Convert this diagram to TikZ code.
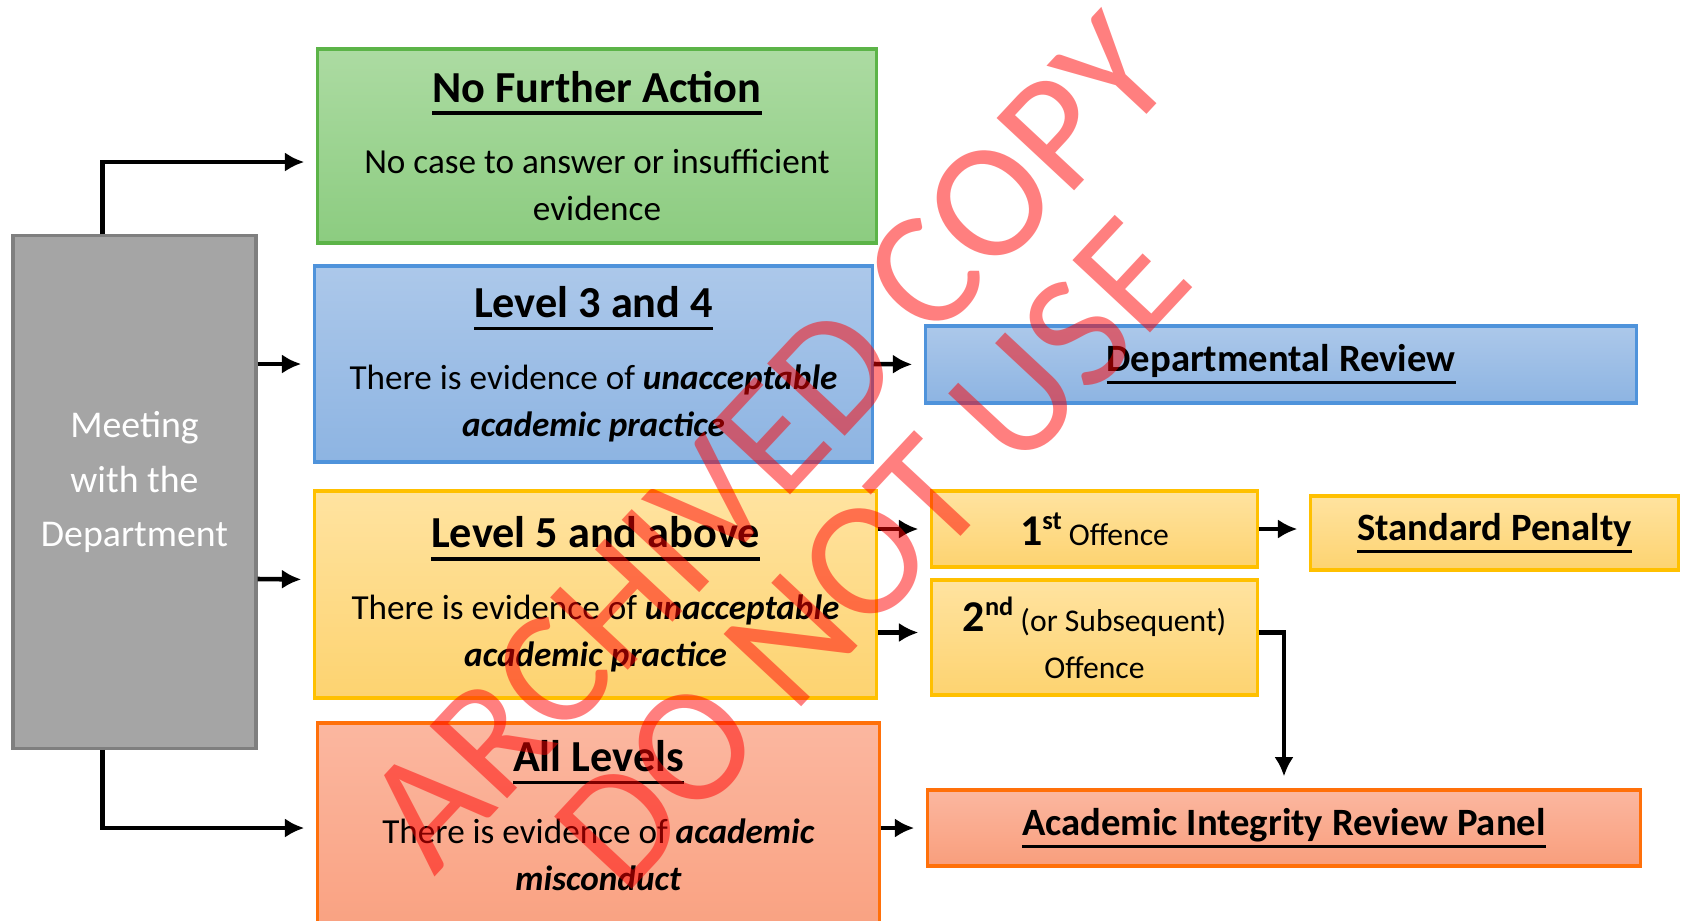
\documentclass[tikz,border=0pt]{standalone}
\usepackage{fontspec}
\setmainfont{Carlito}
\usepackage{xcolor}
\usetikzlibrary{positioning}
\usetikzlibrary{arrows.meta}
\usetikzlibrary{calc}

\definecolor{meetfill}{RGB}{165,165,165}
\definecolor{meetline}{RGB}{127,127,127}
\definecolor{grnline}{RGB}{92,180,72}
\definecolor{grntop}{RGB}{172,219,162}
\definecolor{grnbot}{RGB}{140,204,128}
\definecolor{bluline}{RGB}{79,147,219}
\definecolor{blutop}{RGB}{172,200,234}
\definecolor{blubot}{RGB}{141,180,226}
\definecolor{ylwline}{RGB}{255,192,0}
\definecolor{ylwtop}{RGB}{255,227,160}
\definecolor{ylwbot}{RGB}{253,211,112}
\definecolor{orgline}{RGB}{255,112,10}
\definecolor{orgtop}{RGB}{251,183,160}
\definecolor{orgbot}{RGB}{249,158,124}

% underlined heading
\newcommand{\hdr}[2][12.6]{\leavevmode\setbox0=\hbox{\fontsize{#1}{#1}\selectfont\bfseries #2}\rlap{\rule[-3.6pt]{\wd0}{0.95pt}}\box0}
\newcommand{\emp}[1]{\textbf{\textit{#1}}}

\tikzset{
  panel/.style={draw, line width=0.9pt, align=center, inner sep=0pt,
    font=\fontsize{10}{13.4}\selectfont},
  grnbox/.style={panel, draw=grnline, top color=grntop, bottom color=grnbot},
  blubox/.style={panel, draw=bluline, top color=blutop, bottom color=blubot},
  ylwbox/.style={panel, draw=ylwline, top color=ylwtop, bottom color=ylwbot},
  orgbox/.style={panel, draw=orgline, top color=orgtop, bottom color=orgbot},
  flow/.style={line width=1.3pt, -{Latex[length=5.5pt,width=5.5pt]}, shorten >=0.12cm},
  stamp/.style={text=red, text opacity=0.5, rotate=47, inner sep=0pt,
    font=\fontsize{47}{47}\selectfont}
}

\begin{document}
\begin{tikzpicture}[x=0.01cm, y=-0.01cm]
\useasboundingbox (0,0) rectangle (1681,920);

\node[draw=meetline, fill=meetfill, line width=0.9pt, minimum width=2.43cm, minimum height=5.12cm] (meet) at (134.5,492) {};
\node[text=white, align=center, font=\fontsize{10.75}{15.4}\selectfont] (meettxt) at ($(meet.center)+(0,-10)$) {Meeting\\ with the\\ Department};

\node[grnbox, minimum width=5.58cm, minimum height=1.94cm] (nfa) at (597,146)
  {\hdr{No Further Action}\\[7pt] No case to answer or insufficient\\ evidence};
\node[blubox, minimum width=5.57cm, minimum height=1.96cm] (lvl34) at (593.5,364)
  {\hdr{Level 3 and 4}\\[7pt] There is evidence of \emp{unacceptable}\\ \emp{academic practice}};
\node[ylwbox, minimum width=5.61cm, minimum height=2.07cm] (lvl5) at (595.5,594.5)
  {\hdr{Level 5 and above}\\[7pt] There is evidence of \emp{unacceptable}\\ \emp{academic practice}};
\node[orgbox, minimum width=5.61cm, minimum height=2.40cm] (allv) at (598.5,843) {};
\node[align=center, inner sep=0pt, font=\fontsize{10}{13.4}\selectfont] (allvtxt) at ($(allv.north)+(0,94)$)
  {\hdr{All Levels}\\[7pt] There is evidence of \emp{academic}\\ \emp{misconduct}};

\node[blubox, minimum width=7.10cm, minimum height=0.77cm] (deprev) at (1281,364.5) {\hdr[11]{Departmental Review}};
\node[ylwbox, minimum width=3.25cm, minimum height=0.76cm, font=\fontsize{9}{13.4}\selectfont] (first) at (1094.5,529)
  {{\fontsize{12.5}{13.4}\selectfont\bfseries 1\raisebox{4.5pt}{\fontsize{7.5}{7.5}\selectfont st}} Offence};
\node[ylwbox, minimum width=3.25cm, minimum height=1.15cm, font=\fontsize{9}{13.4}\selectfont] (second) at (1094.5,637.5)
  {{\fontsize{12.5}{13.4}\selectfont\bfseries 2\raisebox{4.5pt}{\fontsize{7.5}{7.5}\selectfont nd}} (or Subsequent)\\ Offence};
\node[ylwbox, minimum width=3.67cm, minimum height=0.74cm] (stdpen) at (1494.5,533) {\hdr[11]{Standard Penalty}};
\node[orgbox, minimum width=7.12cm, minimum height=0.76cm] (airp) at (1284,828) {\hdr[11]{Academic Integrity Review Panel}};

\draw[flow] ($(meet.north west)+(91,0)$) |- ($(nfa.west)+(0,16)$);
\draw[flow] (meet.east |- lvl34.west) -- (lvl34.west);
\draw[flow] ($(meet.east)+(0,87)$) -- ($(lvl5.west)+(0,-15)$);
\draw[flow] ($(meet.south west)+(91,0)$) |- (allv.west |- airp.west);

\draw[flow] (lvl34.east) -- (deprev.west);
\draw[flow] (lvl5.east |- first.west) -- (first.west);
\draw[flow] ($(lvl5.east |- second.west)+(0,-5)$) -- ($(second.west)+(0,-5)$);
\draw[flow] (first.east) -- (first.east -| stdpen.west);
\draw[flow] ($(second.east)+(0,-5)$) -| (airp.north);
\draw[flow] (allv.east |- airp.west) -- (airp.west);

% watermark
\node[stamp] (wm1) at (768,442) {ARCHIVED COPY};
\node[stamp] (wm2) at (872,554) {DO NOT USE};
\end{tikzpicture}
\end{document}
